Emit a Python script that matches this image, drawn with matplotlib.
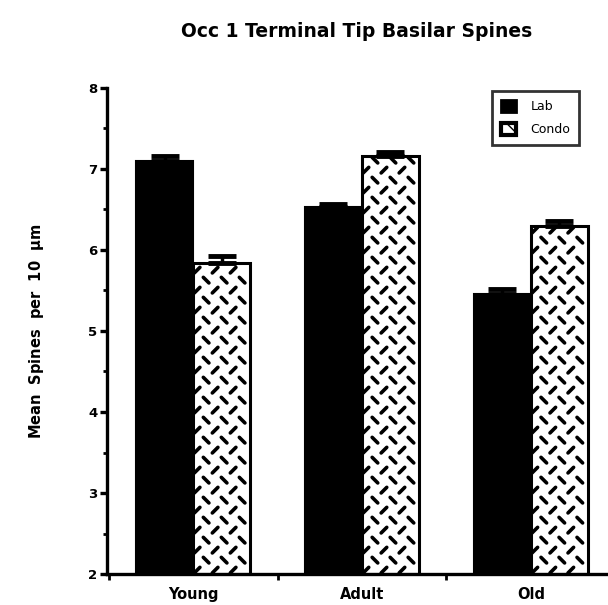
import numpy as np
import matplotlib
matplotlib.use('Agg')
import matplotlib.pyplot as plt
from matplotlib.patches import Patch
from matplotlib.collections import LineCollection
from matplotlib.transforms import IdentityTransform

plt.rcParams['font.family'] = ['DejaVu Sans']
plt.rcParams['font.weight'] = 'bold'

# data
groups = ['Young', 'Adult', 'Old']
lab = [7.09, 6.53, 5.45]
condo = [5.84, 7.16, 6.30]
lab_err = [0.07, 0.04, 0.07]
condo_err = [0.08, 0.05, 0.06]

fig = plt.figure(figsize=(6.08, 6.05), dpi=100)
ax = fig.add_axes([0.176, 0.051, 0.822, 0.804])

x = np.arange(len(groups))
w = 0.338
b1 = ax.bar(x - w/2, np.array(lab) - 2, w, bottom=2, color='black', edgecolor='black', linewidth=1.5)
b2 = ax.bar(x + w/2, np.array(condo) - 2, w, bottom=2, color='white', edgecolor='black', linewidth=2.2)
ax.errorbar(x - w/2, lab, yerr=[np.zeros(3), lab_err], fmt='none', ecolor='black',
            elinewidth=2.5, capsize=10, capthick=3.5)
ax.errorbar(x + w/2, condo, yerr=[np.zeros(3), condo_err], fmt='none', ecolor='black',
            elinewidth=2.5, capsize=10, capthick=3.5)

ax.set_xlim(-0.51, 2.45)
ax.set_ylim(2, 8)

# diamond-plate texture on the Condo bars
def diamond(rect):
    bb = rect.get_window_extent()
    segs = []
    dx, dy, L = 18, 10, 2.8
    row = 0
    yy = bb.y0 + 4
    while yy < bb.y1:
        off = 0 if row % 2 == 0 else dx / 2
        xx = bb.x0 + 4 + off
        while xx < bb.x1:
            if row % 2 == 0:
                segs.append([(xx - L, yy - L), (xx + L, yy + L)])
            else:
                segs.append([(xx - L, yy + L), (xx + L, yy - L)])
            xx += dx
        yy += dy
        row += 1
    lc = LineCollection(segs, colors='black', linewidths=2.6, transform=IdentityTransform(),
                        capstyle='round')
    lc.set_clip_path(rect)
    ax.add_collection(lc)

for r in b2:
    diamond(r)
for r in b2:
    r.set_zorder(3)
    r.set_facecolor('none')

ax.spines['top'].set_visible(False)
ax.spines['right'].set_visible(False)
ax.spines['left'].set_linewidth(2.4)
ax.spines['bottom'].set_linewidth(2.4)

ax.set_yticks([2, 3, 4, 5, 6, 7, 8])
ax.set_yticks(np.arange(2.5, 8, 1), minor=True)
ax.tick_params(axis='y', which='major', length=5, width=2.4, labelsize=9.5, pad=2)
ax.tick_params(axis='y', which='minor', length=3, width=2)
for t in ax.get_yticklabels():
    t.set_fontweight('bold')

ax.set_xticks([-0.5, 0.5, 1.5])
ax.set_xticklabels([])
ax.tick_params(axis='x', which='major', length=4, width=2)
ax.set_xticks(x, minor=True)
ax.set_xticklabels(groups, minor=True, fontsize=10.5, fontweight='bold')
ax.tick_params(axis='x', which='minor', length=0, pad=9)

ax.set_ylabel('Mean  Spines  per  10  $\\mathbf{\\mu}$m', fontsize=10.5, fontweight='bold', labelpad=30)
fig.text(0.587, 0.948, 'Occ 1 Terminal Tip Basilar Spines', ha='center', va='center',
         fontsize=13.5, fontweight='bold')

handles = [Patch(facecolor='black', edgecolor='black', linewidth=2),
           Patch(facecolor='white', edgecolor='black', linewidth=3, hatch='\\\\')]
leg = ax.legend(handles, ['Lab', 'Condo'], loc='upper right', bbox_to_anchor=(0.945, 0.993),
                frameon=True, fancybox=False, edgecolor='black',
                prop={'size': 9, 'weight': 'normal'},
                handlelength=1.2, handleheight=1.1, handletextpad=1.2, borderpad=0.7,
                labelspacing=0.75, borderaxespad=0)
leg.get_frame().set_linewidth(2)

fig.savefig('out.png', dpi=100)
